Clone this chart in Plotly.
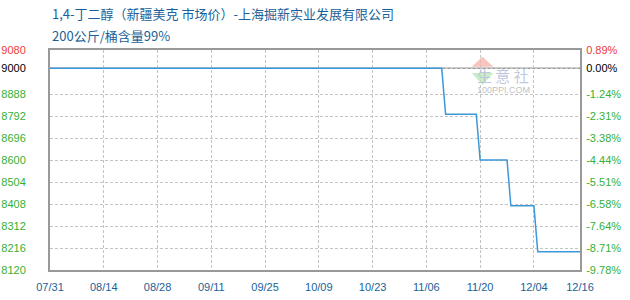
import plotly.graph_objects as go

# ---- data ----
dates = ["2023-07-31", "2023-11-10", "2023-11-11", "2023-11-19", "2023-11-20",
         "2023-11-27", "2023-11-28", "2023-12-04", "2023-12-05", "2023-12-16"]
prices = [9000, 9000, 8800, 8800, 8600, 8600, 8400, 8400, 8200, 8200]
base_price = 9000

x_tick_dates = ["2023-07-31", "2023-08-14", "2023-08-28", "2023-09-11", "2023-09-25",
                "2023-10-09", "2023-10-23", "2023-11-06", "2023-11-20", "2023-12-04",
                "2023-12-16"]
x_tick_labels = ["07/31", "08/14", "08/28", "09/11", "09/25", "10/09", "10/23",
                 "11/06", "11/20", "12/04", "12/16"]

y_ticks = [9080, 9000, 8888, 8792, 8696, 8600, 8504, 8408, 8312, 8216, 8120]
pct_labels = ["0.89%", "0.00%", "-1.24%", "-2.31%", "-3.38%", "-4.44%", "-5.51%",
              "-6.58%", "-7.64%", "-8.71%", "-9.78%"]

title_line1 = "1,4-丁二醇（新疆美克 市场价）-上海掘新实业发展有限公司"
title_line2 = "200公斤/桶含量99%"

RED = "#f03a3a"
GREEN = "#35b035"
BLACK = "#000000"
TITLE_BLUE = "#1a5f98"
AXIS_GREY = "#999999"
GRID = "#c4c4c4"

L, R, T, B = 50, 50, 50, 30
W, H = 630, 300
PW, PH = W - L - R, H - T - B


def px(x):
    return (x - L) / PW


def py(y):
    return (H - B - y) / PH


def col(v):
    if v > base_price:
        return RED
    if v == base_price:
        return BLACK
    return GREEN


left_text = [f"<span style='color:{col(v)}'>{v}</span>" for v in y_ticks]
right_text = [f"<span style='color:{col(v)}'>{t}</span>" for v, t in zip(y_ticks, pct_labels)]

fig = go.Figure()

# invisible trace to anchor the right axis
fig.add_trace(go.Scatter(x=dates, y=prices, yaxis="y2", mode="lines",
                         line=dict(color="rgba(0,0,0,0)"), hoverinfo="skip",
                         showlegend=False))

fig.add_trace(go.Scatter(x=dates, y=prices, mode="lines",
                         line=dict(color="#3d98d8", width=1.5),
                         showlegend=False))

# gray baseline at reference price
fig.add_shape(type="line", xref="paper", x0=0, x1=1, yref="y", y0=base_price, y1=base_price,
              line=dict(color=AXIS_GREY, width=1.5), layer="below")

# watermark logo triangles
fig.add_shape(type="path", xref="paper", yref="paper",
              path=f"M {px(471.7)} {py(66.7)} L {px(493.3)} {py(66.7)} L {px(482.5)} {py(56.7)} Z",
              fillcolor="rgba(244,176,168,0.75)", line=dict(width=0), layer="above")
fig.add_shape(type="path", xref="paper", yref="paper",
              path=f"M {px(471.7)} {py(73)} L {px(493.3)} {py(73)} L {px(482.5)} {py(85)} Z",
              fillcolor="rgba(180,230,180,0.75)", line=dict(width=0), layer="above")

font_ticks = dict(family="Liberation Sans, Arial, sans-serif", size=11)

fig.update_layout(
    width=W, height=H,
    margin=dict(l=L, r=R, t=T, b=B, autoexpand=False),
    paper_bgcolor="white", plot_bgcolor="white",
    showlegend=False,
    xaxis=dict(
        type="date",
        range=[dates[0], dates[-1]],
        tickvals=x_tick_dates, ticktext=x_tick_labels,
        tickfont=dict(color=TITLE_BLUE, **font_ticks),
        showgrid=True, gridcolor=GRID, griddash="3px,2px", gridwidth=1,
        showline=True, linecolor=AXIS_GREY, linewidth=2, mirror=True,
        ticks="outside", ticklen=6, tickcolor="rgba(0,0,0,0)",
        zeroline=False, automargin=False,
    ),
    yaxis=dict(
        range=[y_ticks[-1], y_ticks[0]],
        tickvals=y_ticks, ticktext=left_text,
        tickfont=font_ticks,
        showgrid=True, gridcolor=GRID, griddash="3px,2px", gridwidth=1,
        showline=True, linecolor=AXIS_GREY, linewidth=2, mirror=True,
        ticks="outside", ticklen=20, tickcolor="rgba(0,0,0,0)",
        zeroline=False, automargin=False,
    ),
    yaxis2=dict(
        overlaying="y", side="right",
        range=[y_ticks[-1], y_ticks[0]],
        tickvals=y_ticks, ticktext=right_text,
        tickfont=font_ticks,
        showgrid=False, showline=False, zeroline=False,
        ticks="outside", ticklen=3, tickcolor="rgba(0,0,0,0)",
        automargin=False,
    ),
)

title_font = dict(family="Noto Sans CJK SC, sans-serif", size=13, color=TITLE_BLUE)
fig.add_annotation(text=title_line1, xref="paper", yref="paper", x=0, y=1,
                   xanchor="left", yanchor="bottom", yshift=25, showarrow=False,
                   font=title_font)
fig.add_annotation(text=title_line2, xref="paper", yref="paper", x=0, y=1,
                   xanchor="left", yanchor="bottom", yshift=3, showarrow=False,
                   font=title_font)

# watermark text
fig.add_annotation(text="生 意 社", xref="paper", yref="paper", x=px(531), y=py(63),
                   showarrow=False,
                   font=dict(family="Noto Sans CJK SC", size=15, color="rgba(185,192,218,0.9)"))
fig.add_annotation(text="100PPI.COM", xref="paper", yref="paper", x=px(532), y=py(83),
                   showarrow=False,
                   font=dict(family="Liberation Sans", size=9, color="rgba(185,185,185,0.9)"))

fig.write_html("out.html")
